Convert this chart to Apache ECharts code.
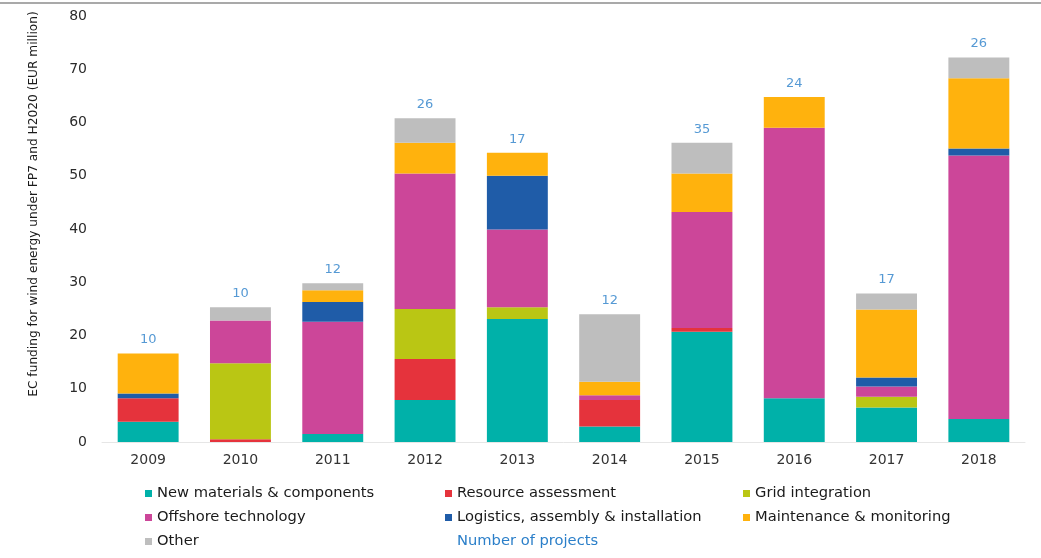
<!DOCTYPE html>
<html>
<head>
<meta charset="utf-8">
<script src="https://cdn.jsdelivr.net/npm/echarts@6/dist/echarts.min.js"></script>
<style>
  html, body { margin: 0; padding: 0; background: #ffffff; }
  #chart { width: 1041px; height: 558px; }
</style>
</head>
<body>
<div id="chart"></div>
<script>
// EC funding for wind energy R&I by topic, EUR million
const years = ['2009', '2010', '2011', '2012', '2013', '2014', '2015', '2016', '2017', '2018'];

const newMaterials  = [3.8, 0,    1.5,  7.9,  23.1, 2.9, 20.7, 8.2,  6.5,  4.3];
const resource      = [4.4, 0.5,  0,    7.7,  0,    5.0, 0.7,  0,    0,    0];
const gridIntegr    = [0,   14.3, 0,    9.4,  2.2,  0,   0,    0,    2.0,  0];
const offshore      = [0,   8.0,  21.1, 25.4, 14.6, 0.9, 21.8, 50.8, 1.9,  49.5];
const logistics     = [0.9, 0,    3.7,  0,    10.1, 0,   0,    0,    1.7,  1.3];
const maintenance   = [7.5, 0,    2.2,  5.8,  4.3,  2.5, 7.2,  5.8,  12.8, 13.2];
const other         = [0,   2.5,  1.3,  4.6,  0,    12.7, 5.8, 0,    3.0,  3.9];

const projects      = [10, 10, 12, 26, 17, 12, 35, 24, 17, 26];

const yTicks = [0, 10, 20, 30, 40, 50, 60, 70, 80];

const topics = [
  { name: 'New materials & components',          data: newMaterials, color: '#00b1a9' },
  { name: 'Resource assessment',                 data: resource,     color: '#e5333c' },
  { name: 'Grid integration',                    data: gridIntegr,   color: '#bac614' },
  { name: 'Offshore technology',                 data: offshore,     color: '#cc4699' },
  { name: 'Logistics, assembly & installation',  data: logistics,    color: '#1f5ca8' },
  { name: 'Maintenance & monitoring',            data: maintenance,  color: '#ffb20d' },
  { name: 'Other',                               data: other,        color: '#bebebe' }
];

// stack totals: the project count sits on top of each column
const totals = years.map((_, i) =>
  topics.reduce((s, t) => s + t.data[i], 0));

const FONT = 'DejaVu Sans';
const chart = echarts.init(document.getElementById('chart'), null, { renderer: 'canvas' });

const barSeries = topics.map(t => ({
  name: t.name,
  type: 'bar',
  stack: 'funding',
  data: t.data,
  barCategoryGap: '34%',
  itemStyle: { color: t.color },
  emphasis: { disabled: true }
}));

const legendText = { fontFamily: FONT, fontSize: 14.7, lineHeight: 15, color: '#1a1a1a' };
const legendBase = {
  orient: 'vertical',
  padding: 0,
  itemWidth: 7,
  itemHeight: 7,
  itemGap: 9,
  icon: 'rect',
  selectedMode: false,
  textStyle: legendText
};

chart.setOption({
  animation: false,
  textStyle: { fontFamily: FONT },
  grid: { show: false, left: 102, right: 16, top: 16, bottom: 116, containLabel: false },
  legend: [
    Object.assign({}, legendBase, { left: 145, top: 486,
      data: [topics[0].name, topics[3].name, topics[6].name] }),
    Object.assign({}, legendBase, { left: 445, top: 486,
      data: [topics[1].name, topics[4].name] }),
    Object.assign({}, legendBase, { left: 743, top: 486,
      data: [topics[2].name, topics[5].name] }),
    Object.assign({}, legendBase, { left: 452, top: 534,
      itemWidth: 0,
      data: [{ name: 'Number of projects', icon: 'rect' }],
      textStyle: Object.assign({}, legendText, { color: '#2b7fc9' }) })
  ],
  xAxis: {
    type: 'category',
    data: years,
    axisTick: { show: false },
    splitLine: { show: false },
    axisLine: { show: true, onZero: false, lineStyle: { color: '#e6e6e6', width: 1 } },
    axisLabel: { fontFamily: FONT, fontSize: 14, color: '#333333', margin: 11 }
  },
  yAxis: {
    type: 'value',
    min: yTicks[0],
    max: yTicks[yTicks.length - 1],
    interval: 10,
    axisLine: { show: false },
    axisTick: { show: false },
    splitLine: { show: false },
    axisLabel: { fontFamily: FONT, fontSize: 14, color: '#2b2b2b', margin: 15 }
  },
  graphic: [
    {
      type: 'rect',
      shape: { x: 0, y: 2, width: 1041, height: 2 },
      style: { fill: '#a9a9a9' },
      silent: true
    },
    {
      type: 'text',
      x: 34,
      y: 204,
      rotation: Math.PI / 2,
      style: {
        text: 'EC funding for wind energy under FP7 and H2020 (EUR million)',
        font: '12.2px "DejaVu Sans"',
        fill: '#1a1a1a',
        align: 'center',
        verticalAlign: 'middle'
      },
      silent: true
    }
  ],
  series: barSeries.concat([{
    name: 'Number of projects',
    type: 'scatter',
    data: totals,
    symbolSize: 0,
    itemStyle: { color: '#2b7fc9' },
    label: {
      show: true,
      position: 'top',
      distance: 7,
      fontFamily: FONT,
      fontSize: 13,
      color: '#2b7fc9',
      formatter: p => String(projects[p.dataIndex])
    },
    emphasis: { disabled: true },
    z: 5
  }])
});
</script>
</body>
</html>
